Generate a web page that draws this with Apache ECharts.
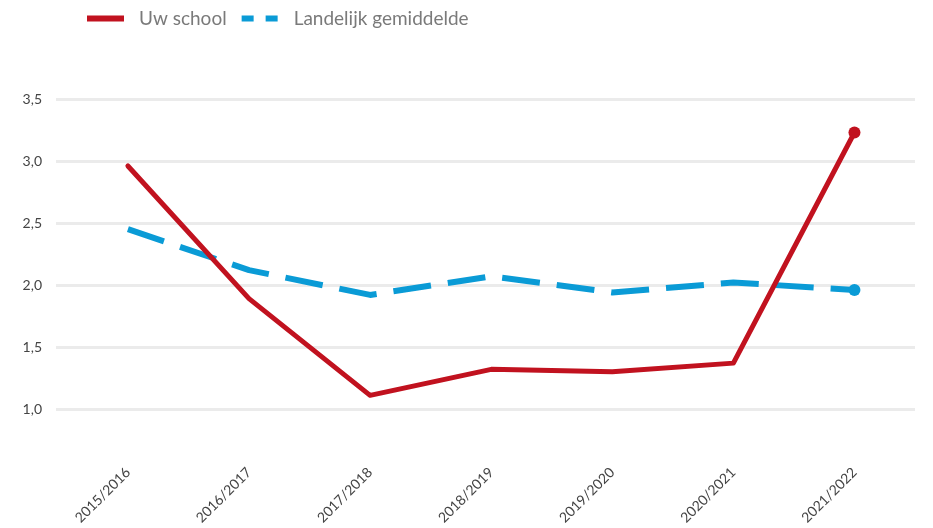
<!DOCTYPE html>
<html><head><meta charset="utf-8">
<script src="https://cdn.jsdelivr.net/npm/echarts@6/dist/echarts.min.js"></script>
<style>html,body{margin:0;padding:0;background:#fff}#c{width:933px;height:528px}</style>
</head><body><div id="c"></div>
<script>
const categories = ['2015/2016','2016/2017','2017/2018','2018/2019','2019/2020','2020/2021','2021/2022'];
const uwSchool = [2.96, 1.89, 1.11, 1.32, 1.30, 1.37, 3.23];
const landelijk = [2.45, 2.12, 1.92, 2.07, 1.94, 2.02, 1.96];
const yTicks = [1.0, 1.5, 2.0, 2.5, 3.0, 3.5];
const RED = '#c1121f', BLUE = '#0a9bd6';
function pts(arr, color){
  return arr.map((v,i)=> i===arr.length-1
    ? {value:[i,v], symbol:'circle', symbolSize:12, itemStyle:{color}}
    : {value:[i,v]});
}
const chart = echarts.init(document.getElementById('c'));
chart.setOption({
  animation:false,
  textStyle:{fontFamily:'Lato'},
  legend:{
    left:82, top:4, itemWidth:37, itemHeight:6, itemGap:12,
    textStyle:{color:'#7a7a7a', fontSize:19, fontFamily:'Lato', padding:[0,0,0,10]},
    data:[
      {name:'Uw school', icon:'rect', itemStyle:{color:RED}},
      {name:'Landelijk gemiddelde', itemStyle:{color:BLUE, opacity:0}, lineStyle:{type:[12,12], width:6, color:BLUE, opacity:1}}
    ]
  },
  grid:{left:56, right:18, top:99, bottom:119, containLabel:false},
  xAxis:{
    type:'value', min:-0.594, max:6.5,
    splitLine:{show:false}, axisLine:{show:false}, axisTick:{show:false},
    axisLabel:{customValues:categories.map((c,i)=>i), rotate:45, margin:61,
      color:'#444', fontSize:14, fontFamily:'Lato',
      formatter:v=>categories[Math.round(v)] || ''}
  },
  yAxis:{
    type:'value', min:yTicks[0], max:yTicks[yTicks.length-1], interval:0.5,
    axisLine:{show:false}, axisTick:{show:false},
    splitLine:{lineStyle:{color:'#ebebeb', width:3}},
    axisLabel:{margin:14, color:'#444', fontSize:14, fontFamily:'Lato',
      formatter:v=>v.toFixed(1).replace('.',',')}
  },
  series:[
    {name:'Uw school', type:'line', data:pts(uwSchool,RED), symbol:'none', z:3,
      itemStyle:{color:RED}, lineStyle:{color:RED, width:5, cap:'round', join:'round'}},
    {name:'Landelijk gemiddelde', type:'line', data:pts(landelijk,BLUE), symbol:'none', z:2,
      itemStyle:{color:BLUE}, lineStyle:{color:BLUE, width:6, type:[38,17], join:'round'}}
  ]
});
</script></body></html>
